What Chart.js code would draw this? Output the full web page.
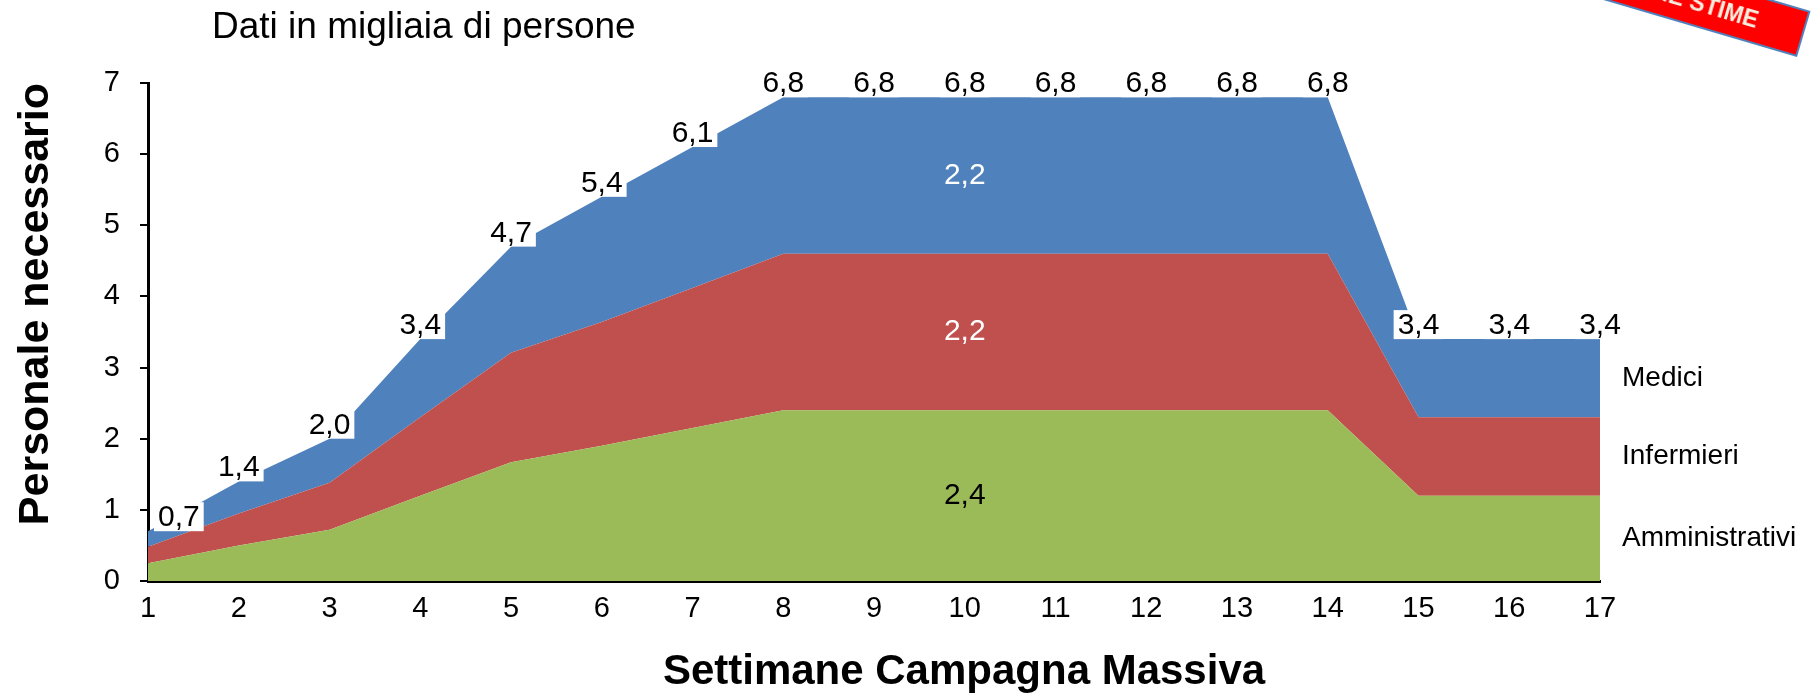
<!DOCTYPE html>
<html>
<head>
<meta charset="utf-8">
<script src="https://cdn.jsdelivr.net/npm/chart.js@4/dist/chart.umd.min.js"></script>
<style>
  html, body { margin: 0; padding: 0; background: #fff; overflow: hidden; }
  #wrap { position: relative; width: 1814px; height: 694px; }
  #banner {
    position: absolute; left: 1497px; top: 9px; width: 300px; height: 48px;
    box-sizing: border-box; background: #ff0000; border: 2px solid #4f81bd;
    transform-origin: 100% 100%; transform: rotate(16.4deg);
    color: #f4efe0; font: bold 23px "Liberation Sans", Arial, sans-serif;
    text-align: right; padding-right: 46px; line-height: 44px; white-space: nowrap;
  }
</style>
</head>
<body>
<div id="wrap">
  <canvas id="areaChart" width="1814" height="694"></canvas>
  <div id="banner">PRIME STIME</div>
</div>
<script>
// dati in migliaia di persone, per settimana
var settimane = ['1','2','3','4','5','6','7','8','9','10','11','12','13','14','15','16','17'];
var amministrativi = [0.25, 0.50, 0.72, 1.20, 1.67, 1.90, 2.15, 2.4, 2.4, 2.4, 2.4, 2.4, 2.4, 2.4, 1.2, 1.2, 1.2];
var infermieri     = [0.23, 0.45, 0.66, 1.10, 1.54, 1.74, 1.97, 2.2, 2.2, 2.2, 2.2, 2.2, 2.2, 2.2, 1.1, 1.1, 1.1];
var medici         = [0.22, 0.45, 0.62, 1.10, 1.49, 1.76, 1.98, 2.2, 2.2, 2.2, 2.2, 2.2, 2.2, 2.2, 1.1, 1.1, 1.1];
var yTicks = [0, 1, 2, 3, 4, 5, 6, 7];
var serie = ['Amministrativi', 'Infermieri', 'Medici'];

var FONT = '"Liberation Sans", Arial, sans-serif';
Chart.defaults.font.family = FONT;
Chart.defaults.color = '#000';

function fmt(v) {
  return v.toFixed(1).replace('.', ',');
}

var totali = settimane.map(function(s, i) {
  return amministrativi[i] + infermieri[i] + medici[i];
});

// etichette: titoli, totali, valori interni, nomi delle serie
var etichette = {
  id: 'etichette',
  afterDatasetsDraw: function(chart) {
    var ctx = chart.ctx;
    var area = chart.chartArea;
    var y = chart.scales.y;
    var top = chart.getDatasetMeta(2);
    ctx.save();

    ctx.font = '37px ' + FONT;
    ctx.fillStyle = '#000';
    ctx.textAlign = 'left';
    ctx.textBaseline = 'alphabetic';
    ctx.fillText('Dati in migliaia di persone', 212, 38);

    ctx.font = 'bold 42px ' + FONT;
    ctx.textAlign = 'center';
    ctx.fillText('Settimane Campagna Massiva', 964, 684);

    ctx.font = '30px ' + FONT;
    for (var i = 0; i < totali.length; i++) {
      var pt = top.data[i];
      var txt = fmt(totali[i]);
      var w = ctx.measureText(txt).width + 8;
      var left = pt.x - w / 2;
      if (left < area.left + 6) left = area.left + 6;
      ctx.fillStyle = '#fff';
      ctx.fillRect(left, pt.y - 29, w, 29);
      ctx.fillStyle = '#000';
      ctx.fillText(txt, left + w / 2, pt.y - 5);
    }

    // valori al centro della fascia, settimana 10
    var k = 9;
    var xk = top.data[k].x;
    ctx.textBaseline = 'middle';
    ctx.fillStyle = '#000';
    ctx.fillText(fmt(amministrativi[k]), xk, y.getPixelForValue(amministrativi[k] / 2));
    ctx.fillStyle = '#fff';
    ctx.fillText(fmt(infermieri[k]), xk, y.getPixelForValue(amministrativi[k] + infermieri[k] / 2));
    ctx.fillText(fmt(medici[k]), xk, y.getPixelForValue(amministrativi[k] + infermieri[k] + medici[k] / 2));

    // nomi delle serie a destra
    var n = settimane.length - 1;
    ctx.font = '28px ' + FONT;
    ctx.fillStyle = '#000';
    ctx.textAlign = 'left';
    ctx.fillText(serie[0], area.right + 22, y.getPixelForValue(amministrativi[n] / 2));
    ctx.fillText(serie[1], area.right + 22, y.getPixelForValue(amministrativi[n] + infermieri[n] / 2));
    ctx.fillText(serie[2], area.right + 22, y.getPixelForValue(amministrativi[n] + infermieri[n] + medici[n] / 2));
    ctx.restore();
  }
};

var ctx = document.getElementById('areaChart').getContext('2d');
var myChart = new Chart(ctx, {
  type: 'line',
  data: {
    labels: settimane,
    datasets: [{
      label: serie[0],
      data: amministrativi,
      backgroundColor: '#9bbb59',
      borderWidth: 0,
      pointRadius: 0,
      fill: 'origin'
    }, {
      label: serie[1],
      data: infermieri,
      backgroundColor: '#c0504d',
      borderWidth: 0,
      pointRadius: 0,
      fill: '-1'
    }, {
      label: serie[2],
      data: medici,
      backgroundColor: '#4f81bd',
      borderWidth: 0,
      pointRadius: 0,
      fill: '-1'
    }]
  },
  options: {
    responsive: false,
    animation: false,
    layout: { padding: { top: 83, right: 214, bottom: 0, left: 0 } },
    plugins: {
      legend: { display: false },
      tooltip: { enabled: false }
    },
    scales: {
      x: {
        offset: false,
        grid: { display: false, drawTicks: false },
        border: { display: true, color: '#000', width: 3 },
        ticks: { font: { size: 29 }, color: '#000', padding: 11, maxRotation: 0, autoSkip: false },
        afterFit: function(scale) { scale.height = 113; }
      },
      y: {
        stacked: true,
        min: 0,
        max: 7,
        afterBuildTicks: function(scale) {
          scale.ticks = yTicks.map(function(v) { return { value: v }; });
        },
        grid: { drawOnChartArea: false, drawTicks: true, tickLength: 8, color: '#000', lineWidth: 2 },
        border: { display: true, color: '#000', width: 3 },
        ticks: { font: { size: 29 }, color: '#000', padding: 20 },
        title: {
          display: true,
          text: 'Personale necessario',
          align: 'end',
          font: { size: 43, weight: 'bold' },
          color: '#000',
          padding: { top: 10, bottom: 0 }
        },
        afterFit: function(scale) { scale.width = 148; }
      }
    }
  },
  plugins: [etichette]
});
</script>
</body>
</html>
